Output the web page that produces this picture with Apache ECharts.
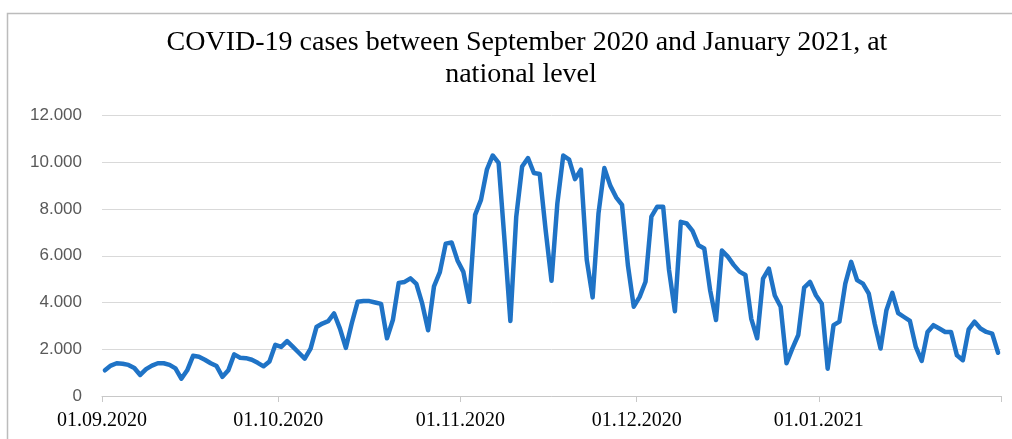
<!DOCTYPE html>
<html>
<head>
<meta charset="utf-8">
<script src="https://cdn.jsdelivr.net/npm/echarts@6/dist/echarts.min.js"></script>
<style>
  html, body { margin: 0; padding: 0; background: #fff; }
  #chart { width: 1012px; height: 439px; }
</style>
</head>
<body>
<div id="chart"></div>
<script>
// Daily reported cases, one array per month
const sep2020 = [1100,1300,1400,1380,1330,1200,900,1150,1300,1400,1400,1330,1180,740,1100,1720,1680,1550,1400,1280,820,1100,1780,1640,1620,1550,1420,1270,1480,2190];
const oct2020 = [2100,2350,2100,1850,1600,2030,2950,3100,3200,3530,2880,2060,3100,4030,4060,4060,4000,3940,2470,3250,4840,4880,5030,4800,3950,2810,4690,5300,6520,6570,5800];
const nov2020 = [5310,4030,7750,8390,9680,10290,9970,6680,3210,7670,9820,10180,9540,9500,7100,4930,8250,10290,10110,9280,9680,5820,4220,7820,9750,9000,8500,8180,5600,3820];
const dec2020 = [4240,4890,7670,8100,8100,5390,3630,7450,7380,7060,6450,6310,4520,3250,6220,5960,5610,5320,5180,3300,2470,5020,5450,4300,3820,1400,2040,2610,4640,4880,4310];
const jan2021 = [3950,1170,3030,3180,4810,5740,4960,4810,4380,3100,2030,3670,4410,3550,3380,3210,2100,1500,2740,3030,2890,2740,2740,1740,1530,2850,3180,2890,2740,2670,1850];

const months = [
  { year: 2020, month: 9,  values: sep2020 },
  { year: 2020, month: 10, values: oct2020 },
  { year: 2020, month: 11, values: nov2020 },
  { year: 2020, month: 12, values: dec2020 },
  { year: 2021, month: 1,  values: jan2021 }
];

const yTicks = [0, 2000, 4000, 6000, 8000, 10000, 12000];
const titleLines = ['COVID-19 cases between September 2020 and January 2021, at', 'national level'];

// Day labels (dd.mm.yyyy) and the flat value list
const pad = n => (n < 10 ? '0' + n : '' + n);
const dates = [];
const cases = [];
months.forEach(m => {
  m.values.forEach((v, i) => {
    dates.push(pad(i + 1) + '.' + pad(m.month) + '.' + m.year);
    cases.push(v);
  });
});
const isMonthStart = (idx) => dates[idx].startsWith('01.');

const titleFont = {
  fontFamily: 'Liberation Serif',
  fontWeight: 'normal',
  fontSize: 28,
  lineHeight: 32,
  color: '#000000'
};

const chart = echarts.init(document.getElementById('chart'), null, { renderer: 'canvas' });

chart.setOption({
  animation: false,
  backgroundColor: '#ffffff',
  graphic: [{
    type: 'rect',
    shape: { x: 7.5, y: 13.5, width: 1020, height: 440 },
    style: { fill: 'none', stroke: '#bcbcbc', lineWidth: 1.5 },
    silent: true
  }],
  title: [
    { text: titleLines[0], left: 522, top: 22, textAlign: 'center', textStyle: titleFont },
    { text: titleLines[1], left: 516, top: 54, textAlign: 'center', textStyle: titleFont }
  ],
  grid: { left: 102, right: 11, top: 115.5, bottom: 43, containLabel: false },
  xAxis: {
    type: 'category',
    data: dates,
    boundaryGap: true,
    axisLine: { show: true, lineStyle: { color: '#c8c8c8', width: 1 } },
    axisTick: {
      show: true,
      length: 6,
      alignWithLabel: false,
      interval: (idx) => isMonthStart(idx),
      lineStyle: { color: '#c8c8c8' }
    },
    axisLabel: {
      interval: (idx) => isMonthStart(idx),
      fontFamily: 'Liberation Serif',
      fontSize: 20,
      color: '#000000',
      margin: 15,
      padding: [0, 6, 0, 0]
    },
    splitLine: { show: false }
  },
  yAxis: {
    type: 'value',
    min: yTicks[0],
    max: yTicks[yTicks.length - 1],
    interval: 2000,
    axisLine: { show: false },
    axisTick: { show: false },
    axisLabel: {
      fontFamily: 'Liberation Sans',
      fontSize: 17,
      color: '#595959',
      margin: 20,
      formatter: v => v === 0 ? '0' : (v / 1000).toFixed(0) + '.000'
    },
    splitLine: { show: true, lineStyle: { color: '#d9d9d9', width: 1 } }
  },
  series: [{
    type: 'line',
    data: cases,
    showSymbol: false,
    smooth: false,
    lineStyle: { color: '#1f73c6', width: 4.5, join: 'round', cap: 'round' },
    itemStyle: { color: '#1f73c6' }
  }]
});
</script>
</body>
</html>
